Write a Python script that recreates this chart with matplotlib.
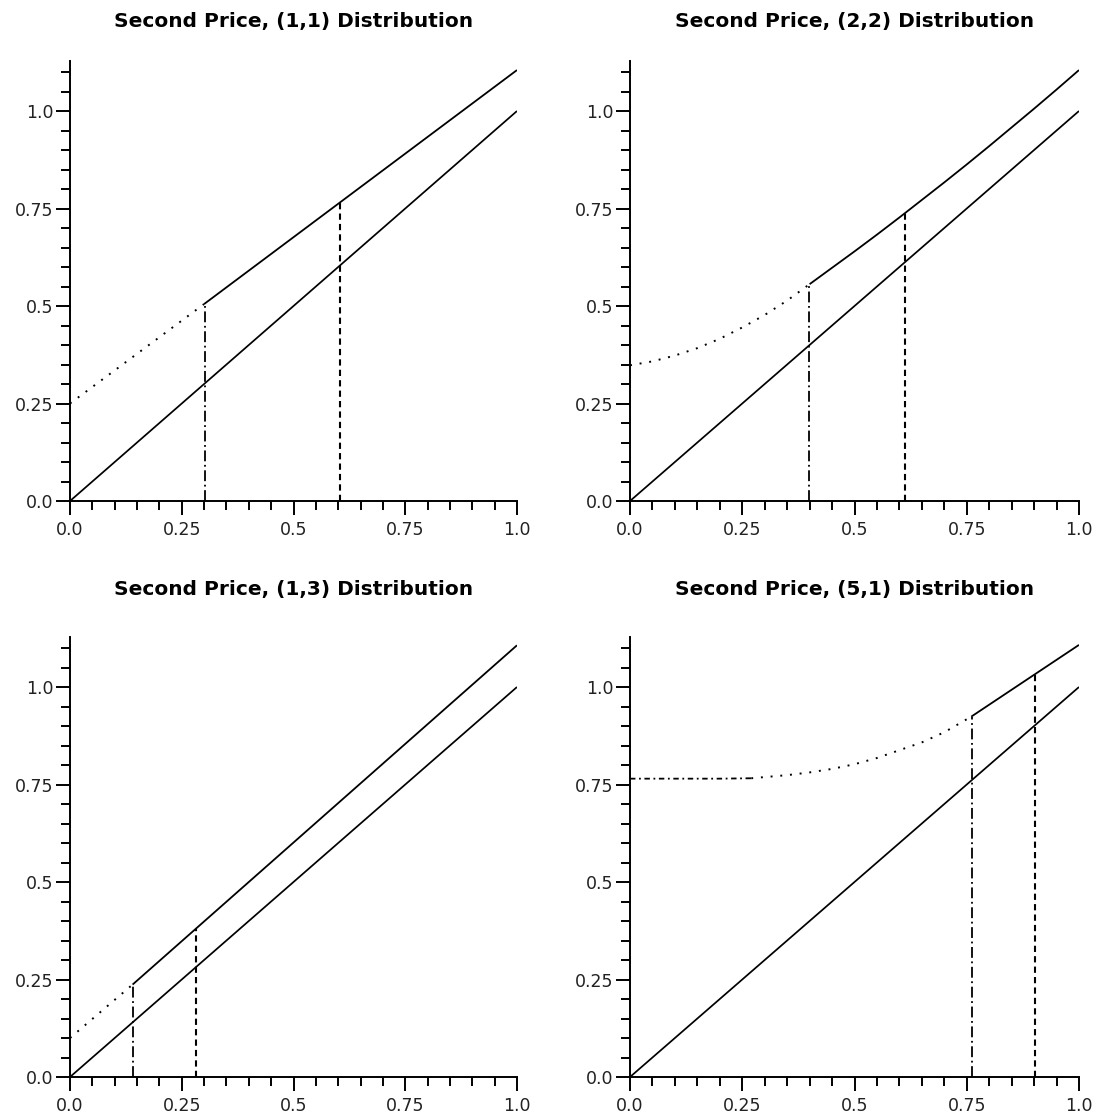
import matplotlib
matplotlib.use("Agg")
import matplotlib.pyplot as plt
from matplotlib.ticker import MultipleLocator, FixedLocator, FixedFormatter

# ---------------- data ----------------
titles = ["Second Price, (1,1) Distribution", "Second Price, (2,2) Distribution",
          "Second Price, (1,3) Distribution", "Second Price, (5,1) Distribution"]

diag_x = [0.0, 1.0]
diag_y = [0.0, 1.0]

# (1,1)
low_x_11 = [0.0, 0.30]
low_y_11 = [0.25, 0.505]
high_x_11 = [0.30, 1.0]
high_y_11 = [0.505, 1.105]
reserve_11 = (0.302, 0.505)
optimal_11 = (0.605, 0.766)

# (2,2)
low_x_22 = [0.0, 0.05, 0.10, 0.15, 0.20, 0.25, 0.30, 0.35, 0.40]
low_y_22 = [0.348, 0.358, 0.373, 0.392, 0.416, 0.445, 0.477, 0.514, 0.556]
high_x_22 = [0.40, 0.45, 0.50, 0.55, 0.60, 0.65, 0.70, 0.75, 0.80, 0.85, 0.90, 0.95, 1.0]
high_y_22 = [0.556, 0.598, 0.640, 0.683, 0.727, 0.772, 0.817, 0.863, 0.910,
             0.958, 1.006, 1.055, 1.105]
reserve_22 = (0.399, 0.556)
optimal_22 = (0.612, 0.738)

# (1,3)
low_x_13 = [0.0, 0.14]
low_y_13 = [0.10, 0.237]
high_x_13 = [0.14, 1.0]
high_y_13 = [0.237, 1.107]
reserve_13 = (0.14, 0.237)
optimal_13 = (0.282, 0.380)

# (5,1)
low_x_51 = [0.0, 0.10, 0.20, 0.27, 0.30, 0.35, 0.40, 0.45, 0.50, 0.55, 0.60, 0.65, 0.70, 0.76]
low_y_51 = [0.765, 0.765, 0.765, 0.766, 0.769, 0.774, 0.781, 0.790, 0.802, 0.818, 0.838, 0.858, 0.884, 0.924]
high_x_51 = [0.76, 1.0]
high_y_51 = [0.924, 1.108]
reserve_51 = (0.761, 0.924)
optimal_51 = (0.903, 1.030)

major_ticks = [0.0, 0.25, 0.5, 0.75, 1.0]
major_labels = ["0.0", "0.25", "0.5", "0.75", "1.0"]

panels = [
    (low_x_11, low_y_11, high_x_11, high_y_11, reserve_11, optimal_11, 0),
    (low_x_22, low_y_22, high_x_22, high_y_22, reserve_22, optimal_22, 0),
    (low_x_13, low_y_13, high_x_13, high_y_13, reserve_13, optimal_13, 0),
    (low_x_51, low_y_51, high_x_51, high_y_51, reserve_51, optimal_51, 4),
]

# ---------------- layout ----------------
fig = plt.figure(figsize=(10.99, 11.17), dpi=100)
W, H = 1099, 1117
left_x0 = [70, 630, 70, 630]
widths = [447, 449, 447, 449]
axis_bottom_px = [501, 501, 1077, 1077]
ax_h = 440.3
title_pads = [24, 24, 30, 30]

for i, (lx, ly, hx, hy, res, opt, nflat) in enumerate(panels):
    ax = fig.add_axes([left_x0[i] / W, 1 - axis_bottom_px[i] / H, widths[i] / W, ax_h / H])
    ax.set_xlim(0, 1.0)
    ax.set_ylim(0, 1.129)
    for s in ["top", "right"]:
        ax.spines[s].set_visible(False)
    for s in ["left", "bottom"]:
        ax.spines[s].set_linewidth(1.4)
        ax.spines[s].set_color("black")

    ax.xaxis.set_major_locator(FixedLocator(major_ticks))
    ax.xaxis.set_major_formatter(FixedFormatter(major_labels))
    ax.yaxis.set_major_locator(FixedLocator(major_ticks))
    ax.yaxis.set_major_formatter(FixedFormatter(major_labels))
    ax.xaxis.set_minor_locator(MultipleLocator(0.05))
    ax.yaxis.set_minor_locator(MultipleLocator(0.05))
    ax.tick_params(which="major", direction="out", length=10, width=1.4,
                   labelsize=12.5, color="black", labelcolor="#222222")
    ax.tick_params(which="minor", direction="out", length=6.5, width=1.4, color="black")
    ax.tick_params(axis="y", which="major", pad=2)
    ax.tick_params(axis="x", which="major", pad=4.5)

    # 45 degree line
    ax.plot(diag_x, diag_y, color="black", lw=1.25, solid_capstyle="butt")
    # low (dotted) part of the bid function
    if nflat > 0:
        ax.plot(lx[:nflat], ly[:nflat], color="black", lw=1.3,
                linestyle=(0, (3, 2, 1, 2)))
        ax.plot(lx[nflat - 1:], ly[nflat - 1:], color="black", lw=1.4,
                linestyle=(0, (1, 4)))
    else:
        ax.plot(lx, ly, color="black", lw=1.4, linestyle=(0, (1, 4)))
    # high (solid) part
    ax.plot(hx, hy, color="black", lw=1.3, solid_capstyle="butt")
    # reserve (dash-dot) and optimal (dashed) verticals
    ax.vlines(res[0], 0, res[1], colors="black", lw=1.3, linestyles=[(0, (6, 2, 1, 2))])
    ax.vlines(opt[0], 0, opt[1], colors="black", lw=1.5, linestyles=[(0, (3, 2))])

    ax.set_title(titles[i], fontsize=14.5, fontweight="bold", pad=title_pads[i])

fig.savefig("out.png", dpi=100)
